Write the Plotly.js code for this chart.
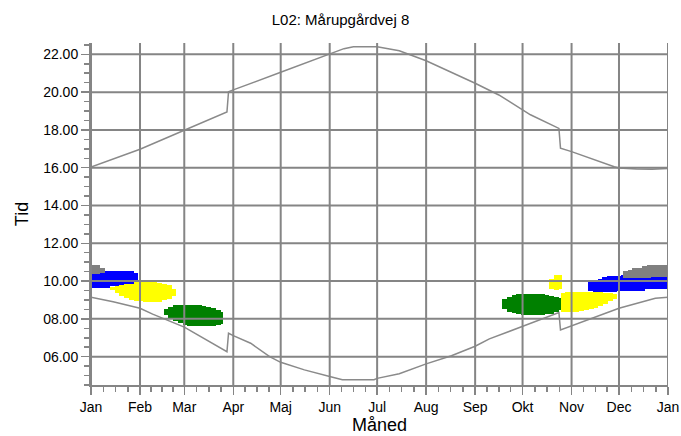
<!DOCTYPE html>
<html>
<head>
<meta charset="utf-8">
<script src="https://cdn.plot.ly/plotly-3.0.1.min.js"></script>
<style>html,body{margin:0;padding:0;background:#fff;}#chart{width:681px;height:436px;}</style>
</head>
<body>
<div id="chart"></div>
<script>
// ---- Axis data ----
const monthStarts = [0, 31, 59, 90, 120, 151, 181, 212, 243, 273, 304, 334, 365];
const monthLabels = ['Jan', 'Feb', 'Mar', 'Apr', 'Maj', 'Jun', 'Jul', 'Aug', 'Sep', 'Okt', 'Nov', 'Dec', 'Jan'];
const hourTicks = [6, 8, 10, 12, 14, 16, 18, 20, 22];

// ---- Sunset (upper curve) ----
const sunsetDay  = [0, 31, 59, 86, 87, 90, 120, 151, 160, 166, 181, 195, 212, 243, 258, 278, 296, 297, 304, 331, 334, 345, 355, 365];
const sunsetTime = [16.03, 16.98, 17.98, 18.95, 20.02, 20.12, 21.05, 22.05, 22.3, 22.4, 22.4, 22.19, 21.66, 20.47, 19.85, 18.8, 18.08, 17.03, 16.85, 16.05, 15.98, 15.93, 15.92, 15.96];

// ---- Sunrise (lower curve) ----
const sunriseDay  = [0, 14, 31, 39, 59, 86, 87, 90, 101, 113, 120, 135, 151, 159, 179, 181, 195, 212, 228, 243, 252, 273, 296, 297, 304, 334, 357, 365];
const sunriseTime = [9.15, 8.91, 8.56, 8.25, 7.56, 6.26, 7.24, 7.11, 6.71, 6.0, 5.7, 5.3, 4.95, 4.78, 4.78, 4.85, 5.1, 5.62, 6.05, 6.55, 6.94, 7.62, 8.33, 7.41, 7.62, 8.56, 9.09, 9.14];

// ---- Shadow periods (day, from, to) ----
const greenDay  = [47.5, 50.5, 53.5, 56.5, 59.5, 62.5, 65.5, 68.5, 71.5, 74.5, 77.5, 80.5, 82,
                   261.5, 264.5, 267.5, 270.5, 273.5, 276.5, 279.5, 282.5, 285.5, 288.5, 291.5, 294.5, 296];
const greenFrom = [8.18, 8.0, 7.88, 7.76, 7.68, 7.62, 7.61, 7.61, 7.61, 7.61, 7.63, 7.68, 7.74,
                   8.5, 8.36, 8.3, 8.26, 8.23, 8.21, 8.21, 8.21, 8.22, 8.25, 8.28, 8.36, 8.45];
const greenTo   = [8.53, 8.65, 8.71, 8.71, 8.71, 8.71, 8.71, 8.71, 8.7, 8.62, 8.55, 8.45, 8.35,
                   9.04, 9.16, 9.25, 9.3, 9.32, 9.33, 9.33, 9.33, 9.32, 9.27, 9.22, 9.14, 9.1];

const yellowDay  = [13.5, 16.5, 19.5, 22.5, 25.5, 28.5, 31.5, 34.5, 37.5, 40.5, 43.5, 46.5, 49.5, 52.5,
                    291.5, 294.5, 296.5,
                    298.5, 301.5, 304.5, 307.5, 310.5, 313.5, 316.5, 319.5, 322.5, 325.5, 328.5, 331.5];
const yellowFrom = [9.55, 9.38, 9.2, 9.12, 9.0, 8.97, 8.92, 8.88, 8.88, 8.88, 8.9, 8.98, 9.05, 9.22,
                    9.6, 9.55, 9.58,
                    8.39, 8.39, 8.39, 8.39, 8.42, 8.48, 8.53, 8.6, 8.7, 8.8, 8.95, 9.05];
const yellowTo   = [9.68, 9.78, 9.85, 9.88, 9.93, 9.94, 9.94, 9.94, 9.94, 9.94, 9.92, 9.85, 9.78, 9.6,
                    10.1, 10.3, 10.3,
                    9.36, 9.41, 9.41, 9.41, 9.41, 9.41, 9.41, 9.41, 9.4, 9.38, 9.35, 9.33];

const blueDay  = [1.5, 4.5, 7.5, 10.5, 13.5, 16.5, 19.5, 22.5, 25.5, 28.5,
                  316, 319, 322, 325, 328, 331, 334, 337, 340, 343, 346, 349, 352, 355, 358, 361, 363.5];
const blueFrom = [9.63, 9.63, 9.63, 9.63, 9.73, 9.73, 9.8, 9.86, 9.86, 10.03,
                  9.45, 9.41, 9.41, 9.41, 9.41, 9.41, 9.5, 9.5, 9.5, 9.5, 9.5, 9.5, 9.59, 9.59, 9.59, 9.59, 9.59];
const blueTo   = [10.51, 10.51, 10.51, 10.51, 10.51, 10.51, 10.51, 10.51, 10.51, 10.44,
                  9.94, 10.05, 10.12, 10.2, 10.26, 10.26, 10.28, 10.3, 10.3, 10.3, 10.3, 10.3, 10.3, 10.3, 10.3, 10.3, 10.3];

const grayDay  = [1.5, 4.5, 7.5,
                  338, 341, 344, 347, 350, 353, 356, 359, 362, 363.5];
const grayFrom = [10.39, 10.39, 10.42,
                  10.15, 10.15, 10.15, 10.15, 10.15, 10.15, 10.2, 10.2, 10.2, 10.2];
const grayTo   = [10.83, 10.83, 10.71,
                  10.56, 10.6, 10.68, 10.7, 10.8, 10.83, 10.83, 10.83, 10.83, 10.83];

// ---- Build ----
const GRID = '#858585';
const FONT = 'Liberation Sans, Arial, sans-serif';

function shadowTrace(days, from, to, color) {
  return {
    type: 'bar', x: days, base: from,
    y: to.map((v, i) => v - from[i]),
    width: 3, marker: {color: color, line: {width: 0}},
    hoverinfo: 'skip', showlegend: false
  };
}

const traces = [
  shadowTrace(greenDay, greenFrom, greenTo, '#008000'),
  shadowTrace(yellowDay, yellowFrom, yellowTo, '#FFFF00'),
  shadowTrace(blueDay, blueFrom, blueTo, '#0000FF'),
  shadowTrace(grayDay, grayFrom, grayTo, '#808080'),
  {type: 'scatter', mode: 'lines', x: sunsetDay, y: sunsetTime,
   line: {color: '#8a8a8a', width: 1.5}, showlegend: false, hoverinfo: 'skip'},
  {type: 'scatter', mode: 'lines', x: sunriseDay, y: sunriseTime,
   line: {color: '#8a8a8a', width: 1.5}, showlegend: false, hoverinfo: 'skip'}
];

// minor x ticks: quarter-months
const minorX = [];
for (let i = 0; i < monthStarts.length - 1; i++) {
  const a = monthStarts[i], b = monthStarts[i + 1];
  for (let k = 1; k < 4; k++) minorX.push(a + (b - a) * k / 4);
}

// gridlines drawn above the shadow areas
const shapes = [];
monthStarts.forEach(d => shapes.push({type: 'line', xref: 'x', yref: 'paper', x0: d, x1: d, y0: 0, y1: 1,
  line: {color: GRID, width: 2}, layer: 'above'}));
hourTicks.forEach(h => shapes.push({type: 'line', xref: 'paper', yref: 'y', x0: 0, x1: 1, y0: h, y1: h,
  line: {color: GRID, width: 2}, layer: 'above'}));

const layout = {
  width: 681, height: 436,
  margin: {l: 91, r: 13, t: 43, b: 51, pad: 0},
  paper_bgcolor: '#ffffff', plot_bgcolor: '#ffffff',
  font: {family: FONT, color: '#000', size: 14},
  barmode: 'overlay', bargap: 0,
  title: {text: 'L02: Mårupgårdvej 8', font: {family: FONT, size: 15, color: '#000'},
          x: 0.5, xref: 'container', y: 0.955, yref: 'container', yanchor: 'middle'},
  xaxis: {
    range: [0, 365], tickmode: 'array', tickvals: monthStarts, ticktext: monthLabels,
    showgrid: false, zeroline: false, showline: true, linecolor: GRID, linewidth: 2,
    ticks: 'outside', ticklen: 8, tickwidth: 1.5, tickcolor: GRID,
    tickfont: {family: FONT, size: 14, color: '#000'},
    minor: {tickmode: 'array', tickvals: minorX, ticks: 'outside', ticklen: 5, tickwidth: 1.5, tickcolor: GRID, showgrid: false},
    title: {text: 'Måned', font: {family: FONT, size: 18, color: '#000'}, standoff: 2}
  },
  yaxis: {
    range: [4.5, 22.6], tickmode: 'array', tickvals: hourTicks, tickformat: '05.2f',
    showgrid: false, zeroline: false, showline: true, linecolor: GRID, linewidth: 2,
    ticks: 'outside', ticklen: 8, tickwidth: 1.5, tickcolor: GRID,
    tickfont: {family: FONT, size: 14, color: '#000'},
    minor: {dtick: 0.5, tick0: 0, ticks: 'outside', ticklen: 5, tickwidth: 1.5, tickcolor: GRID, showgrid: false},
    title: {text: 'Tid', font: {family: FONT, size: 18, color: '#000'}, standoff: 10}
  },
  shapes: shapes
};

Plotly.newPlot('chart', traces, layout, {staticPlot: true, displayModeBar: false});
</script>
</body>
</html>
